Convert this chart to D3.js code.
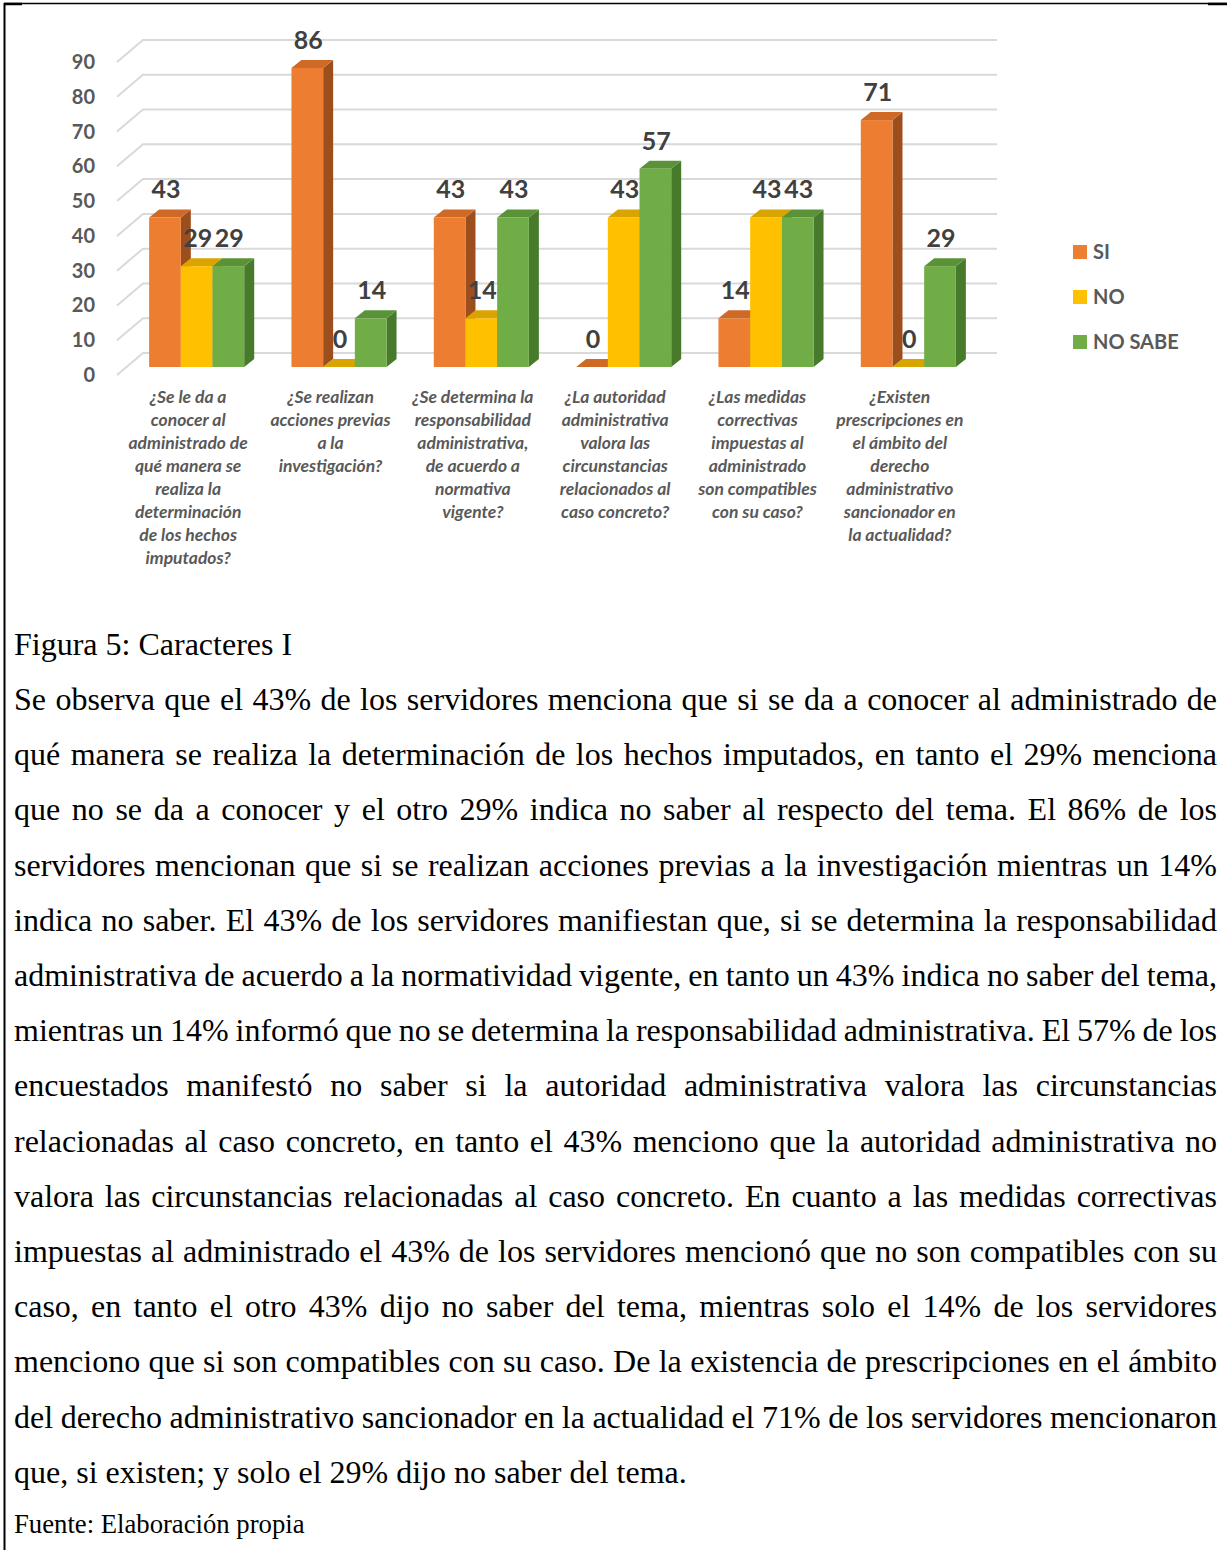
<!DOCTYPE html>
<html>
<head>
<meta charset="utf-8" />
<title>Figura 5: Caracteres I</title>
<style>
html, body {
    margin: 0;
    padding: 0;
    background: #fff;
}
#chart {
    width: 1227px;
    height: 1550px;
}
</style>
</head>
<body>
<div id="chart"></div>

<script src="https://cdnjs.cloudflare.com/ajax/libs/d3/7.8.5/d3.min.js"></script>
<script>
// chart data
var categories = [
    ["¿Se le da a", "conocer al", "administrado de", "qué manera se", "realiza la", "determinación", "de los hechos", "imputados?"],
    ["¿Se realizan", "acciones previas", "a la", "investigación?"],
    ["¿Se determina la", "responsabilidad", "administrativa,", "de acuerdo a", "normativa", "vigente?"],
    ["¿La autoridad", "administrativa", "valora las", "circunstancias", "relacionados al", "caso concreto?"],
    ["¿Las medidas", "correctivas", "impuestas al", "administrado", "son compatibles", "con su caso?"],
    ["¿Existen", "prescripciones en", "el ámbito del", "derecho", "administrativo", "sancionador en", "la actualidad?"]
]
var seriesNames = ["SI", "NO", "NO SABE"]
var siValues = [43, 86, 43, 0, 14, 71]
var noValues = [29, 0, 14, 43, 43, 0]
var noSabeValues = [29, 14, 43, 57, 43, 29]
var yTicks = [0, 10, 20, 30, 40, 50, 60, 70, 80, 90]

var caption = "Figura 5: Caracteres I"
var paragraph = [
    "Se observa que el 43% de los servidores menciona que si se da a conocer al administrado de",
    "qué manera se realiza la determinación de los hechos imputados, en tanto el 29% menciona",
    "que no se da a conocer y el otro 29% indica no saber al respecto del tema. El 86% de los",
    "servidores mencionan que si se realizan acciones previas a la investigación mientras un 14%",
    "indica no saber. El 43% de los servidores manifiestan que, si se determina la responsabilidad",
    "administrativa de acuerdo a la normatividad vigente, en tanto un 43% indica no saber del tema,",
    "mientras un 14% informó que no se determina la responsabilidad administrativa. El 57% de los",
    "encuestados manifestó no saber si la autoridad administrativa valora las circunstancias",
    "relacionadas al caso concreto, en tanto el 43% menciono que la autoridad administrativa no",
    "valora las circunstancias relacionadas al caso concreto. En cuanto a las medidas correctivas",
    "impuestas al administrado el 43% de los servidores mencionó que no son compatibles con su",
    "caso, en tanto el otro 43% dijo no saber del tema, mientras solo el 14% de los servidores",
    "menciono que si son compatibles con su caso. De la existencia de prescripciones en el ámbito",
    "del derecho administrativo sancionador en la actualidad el 71% de los servidores mencionaron",
    "que, si existen; y solo el 29% dijo no saber del tema."
]
var source = "Fuente: Elaboración propia"

!(function(){
    "use strict"

    var width = 1227, height = 1550
    var chartFont = "Lato, 'Open Sans', sans-serif"
    var serif = "'Liberation Serif', 'Times New Roman', serif"

    var colors = [
        {front: "#ED7D31", top: "#CF6A26", side: "#9C4F1D"},
        {front: "#FFC000", top: "#D9A400", side: "#B38800"},
        {front: "#70AD47", top: "#5A9337", side: "#477A2A"}
    ]

    var values = [siValues, noValues, noSabeValues]

    var svg = d3.select("#chart").append("svg")
        .attr("width", width)
        .attr("height", height)

    // frame
    svg.append("line").attr("x1", 4).attr("x2", width).attr("y1", 3.5).attr("y2", 3.5)
        .attr("stroke", "#000").attr("stroke-width", 1.5)
    svg.append("line").attr("x1", 4).attr("x2", 22).attr("y1", 4).attr("y2", 4)
        .attr("stroke", "#000").attr("stroke-width", 2.5)
    svg.append("line").attr("x1", 1208).attr("x2", width).attr("y1", 4).attr("y2", 4)
        .attr("stroke", "#000").attr("stroke-width", 2.5)
    svg.append("line").attr("x1", 4.5).attr("x2", 4.5).attr("y1", 3).attr("y2", height)
        .attr("stroke", "#000").attr("stroke-width", 2)

    // scales (front plane of the 3d box)
    var y = d3.scaleLinear().domain([0, 90]).range([375, 62])
    var x = d3.scaleBand().domain(d3.range(categories.length))
        .range([117, 971]).paddingInner(0.332).paddingOuter(0.166)
    var xs = d3.scaleBand().domain(d3.range(seriesNames.length)).range([0, x.bandwidth()])

    var backDx = 26, backDy = -22   // back wall offset
    var barDx = 8.5, barDy = -8     // bar plane offset
    var depthX = 10, depthY = -8    // bar thickness

    // gridlines
    var grid = svg.append("g").attr("fill", "none").attr("stroke", "#d9d9d9").attr("stroke-width", 2)
    yTicks.forEach(function(t) {
        var p = d3.path()
        p.moveTo(117, y(t))
        p.lineTo(117 + backDx, y(t) + backDy)
        p.lineTo(997, y(t) + backDy)
        grid.append("path").attr("d", p.toString())
    })

    // y tick labels
    svg.append("g").selectAll("text").data(yTicks).join("text")
        .attr("x", 95)
        .attr("y", function(d) { return y(d) })
        .attr("dy", "0.35em")
        .attr("text-anchor", "end")
        .attr("font-family", chartFont)
        .attr("font-weight", "bold")
        .attr("font-size", 20)
        .attr("fill", "#595959")
        .text(function(d) { return d })

    // bars
    var bars = svg.append("g")
    var labels = svg.append("g")
    categories.forEach(function(c, i) {
        values.forEach(function(vals, s) {
            var v = vals[i]
            var x0 = x(i) + xs(s) + barDx
            var x1 = x0 + xs.bandwidth()
            var yb = y(0) + barDy
            var yt = y(v) + barDy
            var col = colors[s]
            // side
            bars.append("polygon")
                .attr("points", [[x1, yb], [x1 + depthX, yb + depthY], [x1 + depthX, yt + depthY], [x1, yt]].join(" "))
                .attr("fill", col.side)
            // top
            bars.append("polygon")
                .attr("points", [[x0, yt], [x0 + depthX, yt + depthY], [x1 + depthX, yt + depthY], [x1, yt]].join(" "))
                .attr("fill", col.top)
            // front
            bars.append("rect")
                .attr("x", x0).attr("y", yt)
                .attr("width", xs.bandwidth()).attr("height", yb - yt)
                .attr("fill", col.front)

            labels.append("text")
                .attr("x", (x0 + x1) / 2 + 1)
                .attr("y", yt + depthY - 11)
                .attr("text-anchor", "middle")
                .attr("font-family", chartFont)
                .attr("font-weight", "bold")
                .attr("font-size", 25)
                .attr("fill", "#404040")
                .text(v)
        })
    })

    // category labels
    categories.forEach(function(lines, i) {
        var t = svg.append("text")
            .attr("text-anchor", "middle")
            .attr("font-family", chartFont)
            .attr("font-weight", "bold")
            .attr("font-style", "italic")
            .attr("font-size", 17.5)
            .attr("fill", "#595959")
        lines.forEach(function(l, k) {
            t.append("tspan")
                .attr("x", x(i) + x.bandwidth() / 2)
                .attr("y", 403 + k * 23)
                .text(l)
        })
    })

    // legend
    var legend = svg.append("g")
    seriesNames.forEach(function(n, i) {
        legend.append("rect")
            .attr("x", 1073).attr("y", 245 + i * 45)
            .attr("width", 14).attr("height", 14)
            .attr("fill", colors[i].front)
        legend.append("text")
            .attr("x", 1093).attr("y", 252 + i * 45)
            .attr("dy", "0.35em")
            .attr("font-family", chartFont)
            .attr("font-weight", "bold")
            .attr("font-size", 20)
            .attr("fill", "#595959")
            .text(n)
    })

    // caption and justified paragraph
    svg.append("text")
        .attr("x", 14).attr("y", 655)
        .attr("font-family", serif)
        .attr("font-size", 32)
        .attr("fill", "#000")
        .text(caption)

    var left = 14, right = 1217
    paragraph.forEach(function(line, li) {
        var words = line.split(" ")
        var g = svg.append("g")
        var baseline = 710 + li * 55.2
        var nodes = words.map(function(w) {
            return g.append("text")
                .attr("y", baseline)
                .attr("font-family", serif)
                .attr("font-size", 32)
                .attr("fill", "#000")
                .text(w)
        })
        var widths = nodes.map(function(n) { return n.node().getComputedTextLength() })
        var total = d3.sum(widths)
        var gap = li === paragraph.length - 1 ? 8 : (right - left - total) / (words.length - 1)
        var cx = left
        nodes.forEach(function(n, k) {
            n.attr("x", cx)
            cx += widths[k] + gap
        })
    })

    svg.append("text")
        .attr("x", 14).attr("y", 1533)
        .attr("font-family", serif)
        .attr("font-size", 26.7)
        .attr("fill", "#000")
        .text(source)
}());
</script>
</body>
</html>
